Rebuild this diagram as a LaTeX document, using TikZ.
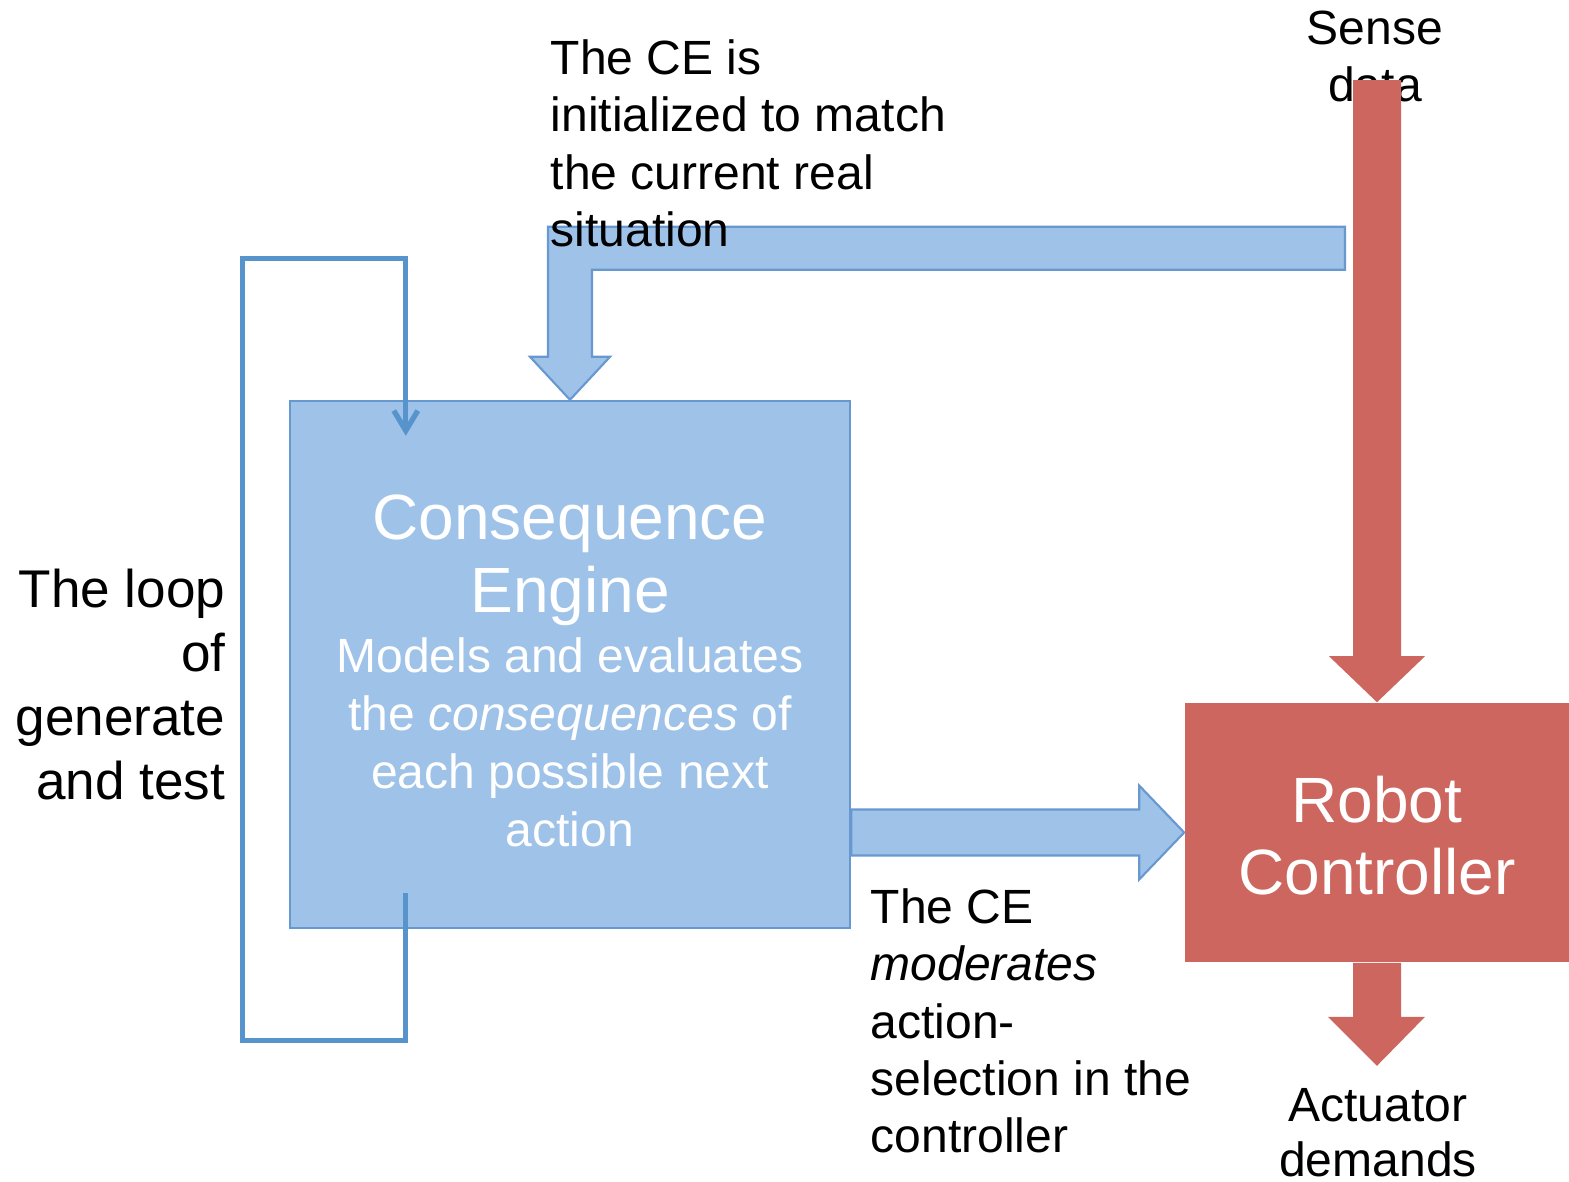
\documentclass[tikz,border=0pt]{standalone}
\usepackage{fontspec}
\setmainfont{Liberation Sans}
\usetikzlibrary{arrows.meta,positioning,calc}

\definecolor{ceblue}{RGB}{158,194,232}
\definecolor{ceedge}{RGB}{104,152,208}
\definecolor{loopblue}{RGB}{88,148,204}
\definecolor{robotred}{RGB}{205,102,94}

\newcommand{\bigfont}{\fontsize{18.2pt}{20.6pt}\selectfont}
\newcommand{\midfont}{\fontsize{13.66pt}{16.3pt}\selectfont}
\newcommand{\cefont}{\fontsize{13.66pt}{16.5pt}\selectfont}
\newcommand{\loopfont}{\fontsize{15.1pt}{18.2pt}\selectfont}

\begin{document}
\begin{tikzpicture}[
  x=0.01cm, y=-0.01cm,
  cebox/.style={draw=ceedge, fill=ceblue, line width=0.6pt, text=white, align=center,
    minimum width=5.6cm, minimum height=5.27cm, inner sep=0pt, font=\cefont},
  robotbox/.style={fill=robotred, text=white, align=center, minimum width=3.84cm,
    minimum height=2.59cm, inner sep=0pt, font=\bigfont},
  note/.style={inner sep=0pt, font=\midfont},
  bluearr/.style={draw=ceedge, fill=ceblue, line width=0.6pt, line join=miter},
  redarr/.style={fill=robotred},
  loopline/.style={draw=loopblue, line width=1.5pt, -{Straight Barb[length=2mm,width=2.4mm]}}
]
\useasboundingbox (0,0) rectangle (1569,1181);

% the two boxes
\node[cebox] (ce) at (570,664.5) {\rule{0pt}{16.4pt}{\bigfont Consequence}\\[2.9pt]
  {\bigfont Engine}\\[0.6pt]Models and evaluates\\the \textit{consequences} of\\
  each possible next\\action};
\node[robotbox] (rc) at (1377,832.5) {\rule{0pt}{15pt}Robot\\Controller};

% real situation fed into the CE
\filldraw[bluearr] (ce.north) -- ++(40,-43) -- ++(-18,0) -- ++(0,-87) -- ++(753,0)
  -- ++(0,-43) -- ++(-797,0) -- ++(0,130) -- ++(-18,0) -- cycle;
\node[note, align=left, anchor=north west] (init) at (550,39)
  {The CE is\\initialized to match\\the current real\\situation};

% CE moderates the controller
\filldraw[bluearr] (rc.west) -- ++(-45,-47) -- ++(0,24) -- ($(ce.east |- rc.west)+(0,-23)$)
  -- ++(0,46) -- ($(rc.west)+(-45,23)$) -- ++(0,24) -- cycle;
\node[note, align=left, anchor=north west] (mod) at (870,888)
  {The CE\\\textit{moderates}\\action-\\selection in the\\controller};

% sensing and actuation
\node[note, align=center, anchor=north] (sense) at (1375,10) {Sense\\data};
\coordinate (sensein) at (1377,80);
\fill[redarr] (sensein) -- ++(24,0) -- ($(rc.north)+(24,-46)$) -- ++(24,0) -- (rc.north)
  -- ++(-48,-46) -- ++(24,0) -- ($(sensein)+(-24,0)$) -- cycle;
\coordinate (actout) at ($(rc.south)+(0,103)$);
\fill[redarr] ($(rc.south)+(-24,0)$) -- ++(0,54) -- ++(-25,0) -- (actout) -- ++(48,-49)
  -- ++(-24,0) -- ++(0,-54) -- cycle;
\node[note, align=center, anchor=north] (act) at (1378,1088) {Actuator\\[-0.6pt]demands};

% generate and test loop
\coordinate (loopout) at ($(ce.south west)+(117,-36)$);
\coordinate (loopin) at ($(ce.north west)+(117,36)$);
\draw[loopline] (loopout) -- ++(0,147) -- ++(-163,0) -- ++(0,-782) -- ++(163,0) -- (loopin);
\node[inner sep=0pt, font=\loopfont, align=right, anchor=north east] (looptxt) at (226,568)
  {The loop\\of\\generate\\and test};
\end{tikzpicture}
\end{document}
